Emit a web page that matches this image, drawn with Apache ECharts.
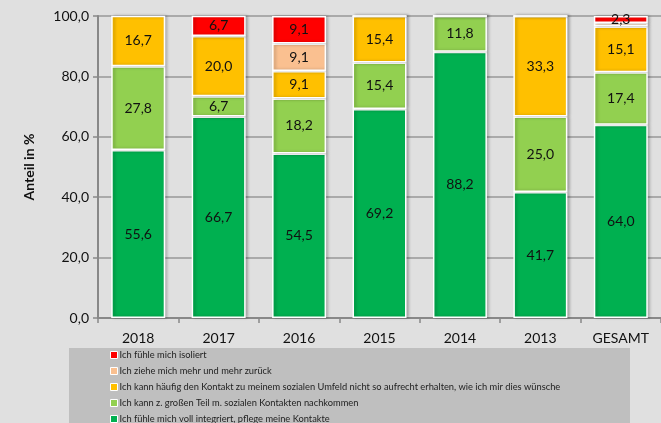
<!DOCTYPE html>
<html>
<head>
<meta charset="utf-8">
<script src="https://cdn.jsdelivr.net/npm/echarts@6/dist/echarts.min.js"></script>
<style>
  html,body{margin:0;padding:0;background:#e0e0e0;}
  #chart{width:661px;height:423px;}
</style>
</head>
<body>
<div id="chart"></div>
<script>
// Kategorien (Jahre)
var categories = ['2018', '2017', '2016', '2015', '2014', '2013', 'GESAMT'];

// Werte je Antwort, in %
var integriert = [55.6, 66.7, 54.5, 69.2, 88.2, 41.7, 64.0];
var grossenTeil = [27.8, 6.7, 18.2, 15.4, 11.8, 25.0, 17.4];
var haeufig = [16.7, 20.0, 9.1, 15.4, 0, 33.3, 15.1];
var zurueck = [0, 0, 9.1, 0, 0, 0, 1.2];
var isoliert = [0, 6.7, 9.1, 0, 0, 0, 2.3];

var yTicks = [0, 20, 40, 60, 80, 100];

var names = [
    'Ich fühle mich voll integriert, pflege meine Kontakte',
    'Ich kann z. großen Teil m. sozialen Kontakten nachkommen',
    'Ich kann häufig den Kontakt zu meinem sozialen Umfeld nicht so aufrecht erhalten, wie ich mir dies wünsche',
    'Ich ziehe mich mehr und mehr zurück',
    'Ich fühle mich isoliert'
];
var colors = ['#00b050', '#92d050', '#ffc000', '#fac090', '#ff0000'];
var values = [integriert, grossenTeil, haeufig, zurueck, isoliert];

var chart = echarts.init(document.getElementById('chart'));

function fmt(v) {
    return v.toFixed(1).replace('.', ',');
}

var series = [];
for (var i = 0; i < values.length; i++) {
    series.push({
        name: names[i],
        type: 'bar',
        stack: 'all',
        barWidth: 54,
        data: values[i],
        itemStyle: {
            color: colors[i],
            borderColor: '#ffffff',
            borderWidth: 1.5,
            shadowBlur: 3,
            shadowOffsetX: 2,
            shadowColor: 'rgba(0,0,0,0.25)'
        },
        label: {
            show: true,
            position: 'inside',
            color: '#111',
            fontSize: 14,
            fontFamily: 'Lato',
            formatter: function (p) {
                // kleine Werte ohne Beschriftung
                return p.value < 2 ? '' : fmt(p.value);
            }
        }
    });
}

var option = {
    backgroundColor: '#e0e0e0',
    animation: false,
    textStyle: {fontFamily: 'Lato'},
    grid: {left: 98, top: 16, width: 574, height: 302, containLabel: false},
    graphic: [{
        type: 'rect',
        left: 69, top: 348,
        shape: {width: 561, height: 80},
        style: {fill: '#bfbfbf'},
        z: -1
    }],
    legend: {
        orient: 'vertical',
        left: 110,
        top: 350,
        height: 120,
        padding: 0,
        itemWidth: 7,
        itemHeight: 7,
        itemGap: 6,
        icon: 'rect',
        data: names.slice().reverse(),
        textStyle: {fontSize: 9.3, lineHeight: 10, color: '#222', fontFamily: 'Lato', padding: [0, 0, 0, -3]},
        itemStyle: {borderColor: '#ffffff', borderWidth: 1}
    },
    xAxis: {
        type: 'category',
        data: categories,
        axisLine: {lineStyle: {color: '#888', width: 2}},
        axisTick: {show: true, length: 5, lineStyle: {color: '#888', width: 1.5}},
        axisLabel: {color: '#111', fontSize: 14, margin: 13}
    },
    yAxis: {
        type: 'value',
        min: yTicks[0],
        max: yTicks[yTicks.length - 1],
        interval: 20,
        name: 'Anteil in %',
        nameLocation: 'middle',
        nameGap: 62,
        nameTextStyle: {fontSize: 14, fontWeight: 'bold', color: '#111'},
        axisLine: {show: true, lineStyle: {color: '#888', width: 2}},
        axisTick: {show: true, length: 5, lineStyle: {color: '#888', width: 1.5}},
        axisLabel: {color: '#111', fontSize: 14, margin: 9, formatter: fmt},
        splitLine: {lineStyle: {color: '#999', width: 1.5}}
    },
    series: series
};

chart.setOption(option);
</script>
</body>
</html>
